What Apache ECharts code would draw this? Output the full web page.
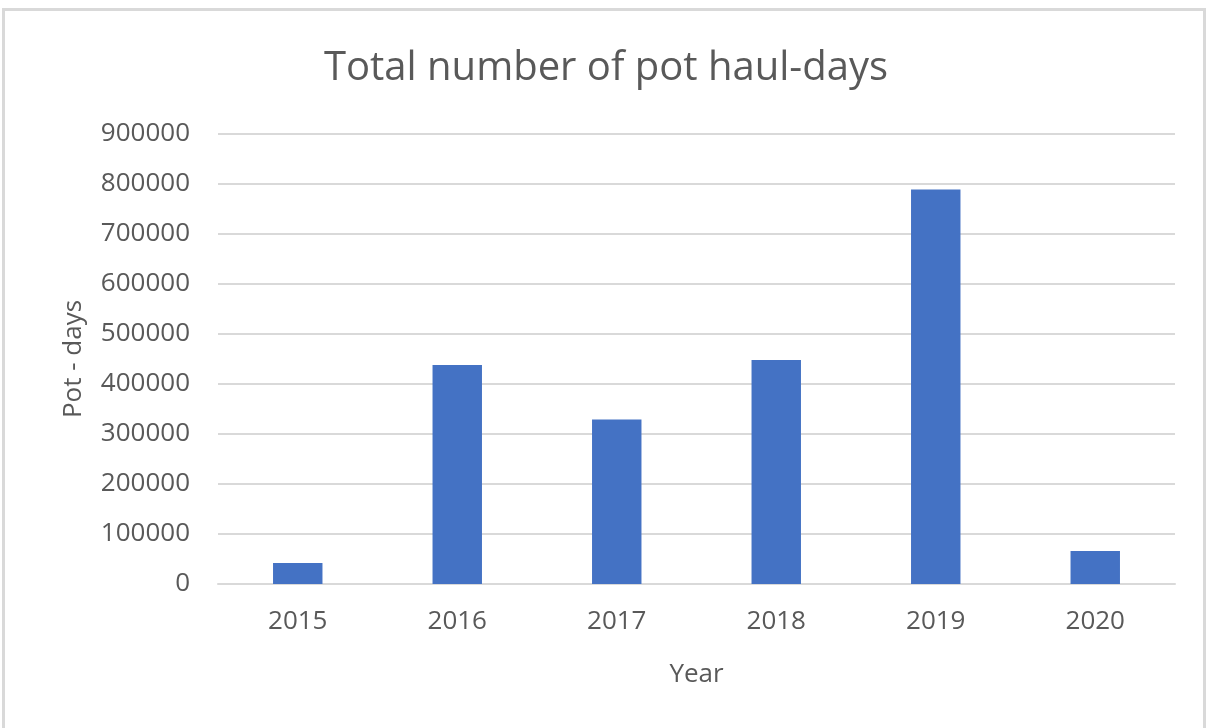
<!DOCTYPE html>
<html><head><meta charset="utf-8">
<script src="https://cdn.jsdelivr.net/npm/echarts@6/dist/echarts.min.js"></script>
<style>
html,body{margin:0;padding:0;background:#fff;}
#frame{position:absolute;left:2px;top:8px;width:1204px;height:730px;border:3px solid #d9d9d9;box-sizing:border-box;}
#c{position:absolute;left:0;top:0;width:1212px;height:728px;}
</style></head><body>
<div id="frame"></div>
<div id="c"></div>
<script>
const categories = ['2015','2016','2017','2018','2019','2020'];
const potDays = [42000, 438000, 329000, 448000, 789000, 66000];
const yTicks = [0, 100000, 200000, 300000, 400000, 500000, 600000, 700000, 800000, 900000];

const chart = echarts.init(document.getElementById('c'), null, {renderer:'canvas'});
const font = 'Open Sans';
chart.setOption({
  animation:false,
  title:{text:'Total number of pot haul-days', left:'center', top:44,
    textStyle:{fontFamily:font, fontSize:40, fontWeight:'normal', color:'#595959'}},
  grid:{left:218, right:37, top:134, bottom:144, containLabel:false},
  xAxis:{type:'category', data:categories, name:'Year', nameLocation:'middle', nameGap:78,
    nameTextStyle:{fontFamily:font, fontSize:26, color:'#595959'},
    axisLine:{lineStyle:{color:'#d9d9d9', width:2}}, axisTick:{show:false},
    axisLabel:{fontFamily:font, fontSize:26, color:'#595959', margin:25}},
  yAxis:{type:'value', min:yTicks[0], max:yTicks[yTicks.length-1], interval:100000,
    name:'Pot - days', nameLocation:'middle', nameGap:131, nameRotate:90,
    nameTextStyle:{fontFamily:font, fontSize:26, color:'#595959'},
    axisLine:{show:false}, axisTick:{show:false},
    axisLabel:{fontFamily:font, fontSize:26, color:'#595959', margin:28, formatter:function(v){return String(v);}},
    splitLine:{lineStyle:{color:'#d9d9d9', width:2}}},
  series:[{type:'bar', data:potDays, barWidth:'31%',
    itemStyle:{color:'#4472c4'}}]
});
</script>
</body></html>
